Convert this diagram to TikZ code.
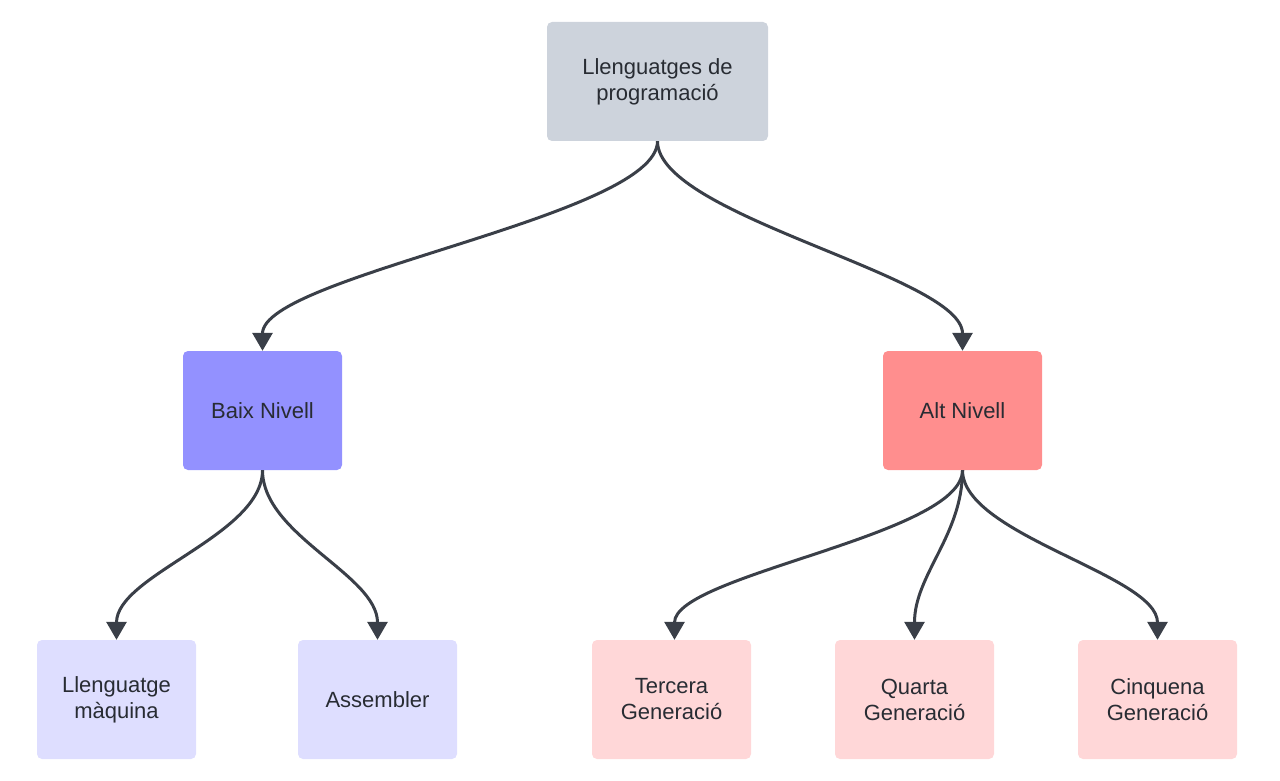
\documentclass[tikz,border=0pt]{standalone}
\usepackage{fontspec}
\setmainfont{Liberation Sans}
\usetikzlibrary{arrows.meta}
\definecolor{topfill}{HTML}{CDD3DC}
\definecolor{lowfill}{HTML}{9391FF}
\definecolor{highfill}{HTML}{FF8E8E}
\definecolor{lowkid}{HTML}{DEDEFF}
\definecolor{highkid}{HTML}{FFD7D8}
\definecolor{linecol}{HTML}{3A3F48}
\definecolor{txtcol}{HTML}{282C33}
\tikzset{
  box/.style={rounded corners=5pt, draw=none, align=center, text=txtcol,
    font=\fontsize{22}{26}\selectfont, inner sep=0pt,
    minimum width=159pt, minimum height=119pt},
  conn/.style={line width=3pt, draw=linecol, -{Triangle[length=18pt,width=20pt]}},
}
\begin{document}
\begin{tikzpicture}[x=1pt,y=-1pt]
\useasboundingbox (0,0) rectangle (1280,781);
\node[box, fill=topfill, minimum width=221pt] (top) at (657.5,81.5) {Llenguatges de\\programació};
\node[box, fill=lowfill] (baix) at (262.5,410.5) {Baix Nivell};
\node[box, fill=highfill] (alt) at (962.5,410.5) {Alt Nivell};
\node[box, fill=lowkid] (maq) at (116.5,699.5) {Llenguatge\\màquina};
\node[box, fill=lowkid] (asm) at (377.5,699.5) {Assembler};
\node[box, fill=highkid] (terc) at (671.5,699.5) {Tercera\\Generació};
\node[box, fill=highkid] (quar) at (914.5,699.5) {Quarta\\Generació};
\node[box, fill=highkid] (cinq) at (1157.5,699.5) {Cinquena\\Generació};
\draw[conn] (top.south) .. controls +(0,75) and +(0,-75) .. (baix.north);
\draw[conn] (top.south) .. controls +(0,75) and +(0,-75) .. (alt.north);
\draw[conn] (baix.south) .. controls +(0,65) and +(0,-65) .. (maq.north);
\draw[conn] (baix.south) .. controls +(0,65) and +(0,-65) .. (asm.north);
\draw[conn] (alt.south) .. controls +(0,65) and +(0,-65) .. ([xshift=3pt]terc.north);
\draw[conn] (alt.south) .. controls +(0,65) and +(0,-65) .. (quar.north);
\draw[conn] (alt.south) .. controls +(0,65) and +(0,-65) .. (cinq.north);
\end{tikzpicture}
\end{document}
